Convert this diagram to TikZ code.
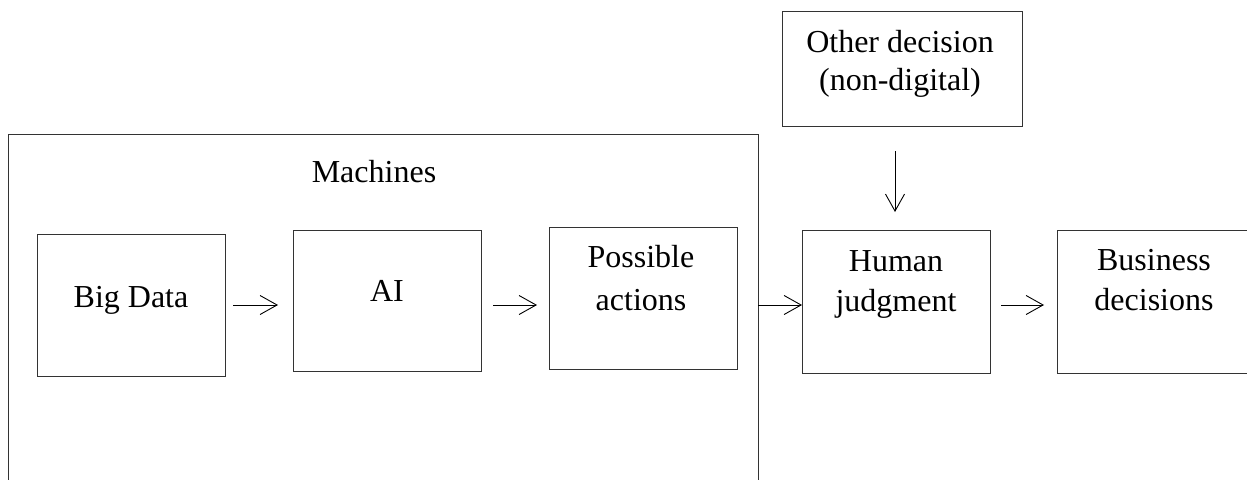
\documentclass[tikz,border=0pt]{standalone}
\usepackage{fontspec}
\setmainfont{Liberation Serif}
\usetikzlibrary{arrows.meta}
\begin{document}
\begin{tikzpicture}[x=1pt,y=-1pt,
  box/.style={draw=black!80,line width=1pt},
  lbl/.style={anchor=base,inner sep=0pt,font=\fontsize{32}{40}\selectfont},
  arr/.style={draw=black,line width=0.9pt,-{Straight Barb[length=17pt,width=19pt,line width=0.9pt]}}]
\useasboundingbox (0,0) rectangle (1247,479);
\clip (0,0) rectangle (1247,479);
% outer machines box
\draw[box] (8,134) rectangle (758,520);
\coordinate (mR) at (758,305);
% boxes
\node[box,anchor=north west,minimum width=188pt,minimum height=142pt,inner sep=0pt] (bd) at (37,234) {};
\node[box,anchor=north west,minimum width=188pt,minimum height=141pt,inner sep=0pt] (ai) at (293,230) {};
\node[box,anchor=north west,minimum width=188pt,minimum height=142pt,inner sep=0pt] (pa) at (549,227) {};
\node[box,anchor=north west,minimum width=188pt,minimum height=143pt,inner sep=0pt] (hj) at (802,230) {};
\node[box,anchor=north west,minimum width=220pt,minimum height=143pt,inner sep=0pt] (bz) at (1057,230) {};
\node[box,anchor=north west,minimum width=240pt,minimum height=115pt,inner sep=0pt] (od) at (782,11) {};
% texts
\node[lbl] (tm) at (374,182) {Machines};
\node[lbl] (tbd) at (131,307) {Big Data};
\node[lbl] (tai) at (387,301) {AI};
\node[lbl] (tpa1) at (641,267) {Possible};
\node[lbl] (tpa2) at (641,310) {actions};
\node[lbl] (thj1) at (896,271) {Human};
\node[lbl] (thj2) at (896,311) {judgment};
\node[lbl] (tbz1) at (1154,270) {Business};
\node[lbl] (tbz2) at (1154,310) {decisions};
\node[lbl] (tod1) at (900,52) {Other decision};
\node[lbl] (tod2) at (900,90) {(non-digital)};
% arrows
\coordinate (a1s) at (233,305); \coordinate (a1e) at (278,305);
\coordinate (a2s) at (493,305); \coordinate (a2e) at (537,305);
\coordinate (a3e) at (802,305);
\coordinate (a4s) at (1001,305); \coordinate (a4e) at (1044,305);
\coordinate (a5s) at (895,151); \coordinate (a5e) at (895,212);
\draw[arr] (a1s) -- (a1e);
\draw[arr] (a2s) -- (a2e);
\draw[arr] (mR) -- (a3e);
\draw[arr] (a4s) -- (a4e);
\draw[arr] (a5s) -- (a5e);
\end{tikzpicture}
\end{document}
